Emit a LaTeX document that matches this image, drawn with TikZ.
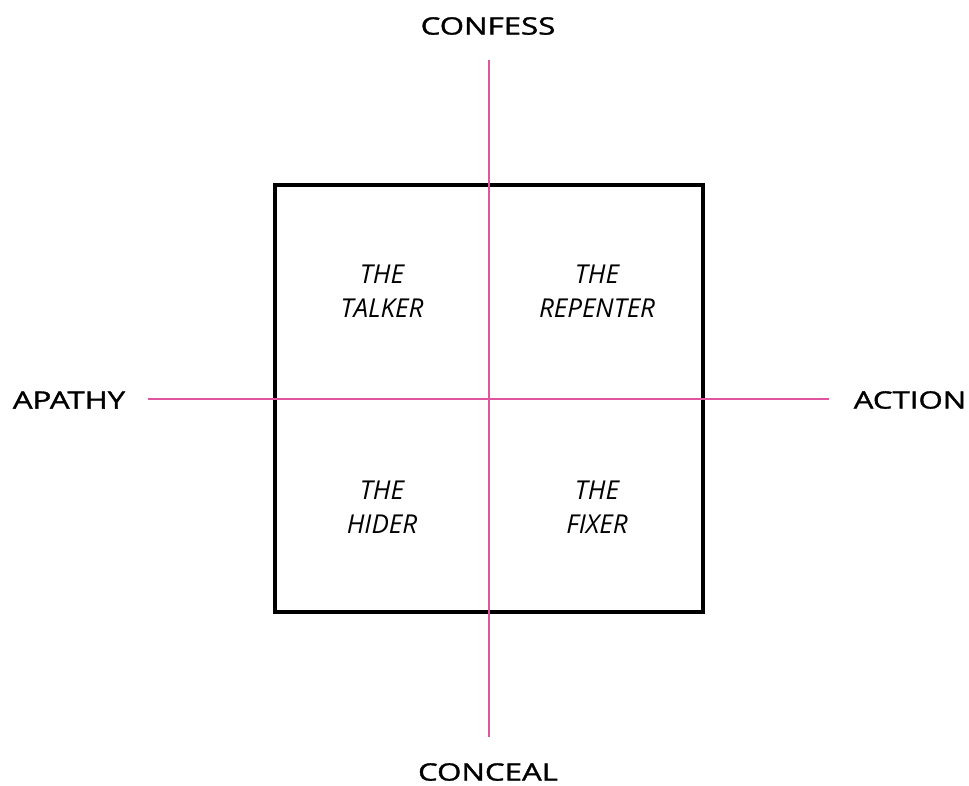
\documentclass[tikz,border=0pt]{standalone}
\usepackage{fontspec}
\setmainfont{Open Sans}
\newfontfamily\polefont[FakeBold=1.2]{Open Sans}
\definecolor{axispink}{HTML}{E0559F}
\begin{document}
\begin{tikzpicture}[x=1pt,y=-1pt,
  axis/.style={draw=axispink,line width=2.8pt},
  frame/.style={draw=black,line width=4.6pt},
  pole/.style={font=\polefont\fontsize{24}{28}\selectfont,inner sep=0pt,anchor=center},
  quad/.style={font=\fontsize{26}{34}\selectfont\itshape,inner sep=0pt,align=center,anchor=center}]
\useasboundingbox[fill=white] (0,0) rectangle (969,785);
\coordinate (vt) at (489,60);
\coordinate (vb) at (489,737);
\coordinate (hl) at (148,399);
\coordinate (hr) at (829,399);
\draw[frame] (275,185) rectangle (703,612);
\draw[axis] (vt) -- (vb);
\draw[axis] (hl) -- (hr);
\node[pole] (confess) at (488,26) {\scalebox{1.3}[1]{CONFESS}};
\node[pole] (conceal) at (488,772) {\scalebox{1.3}[1]{CONCEAL}};
\node[pole] (apathy) at (69,400) {\scalebox{1.3}[1]{APATHY}};
\node[pole] (action) at (910,400) {\scalebox{1.3}[1]{ACTION}};
\node[quad] (talker) at (382,291) {THE\\TALKER};
\node[quad] (repenter) at (597,291) {THE\\REPENTER};
\node[quad] (hider) at (382,507) {THE\\HIDER};
\node[quad] (fixer) at (597,507) {THE\\FIXER};
\end{tikzpicture}
\end{document}
